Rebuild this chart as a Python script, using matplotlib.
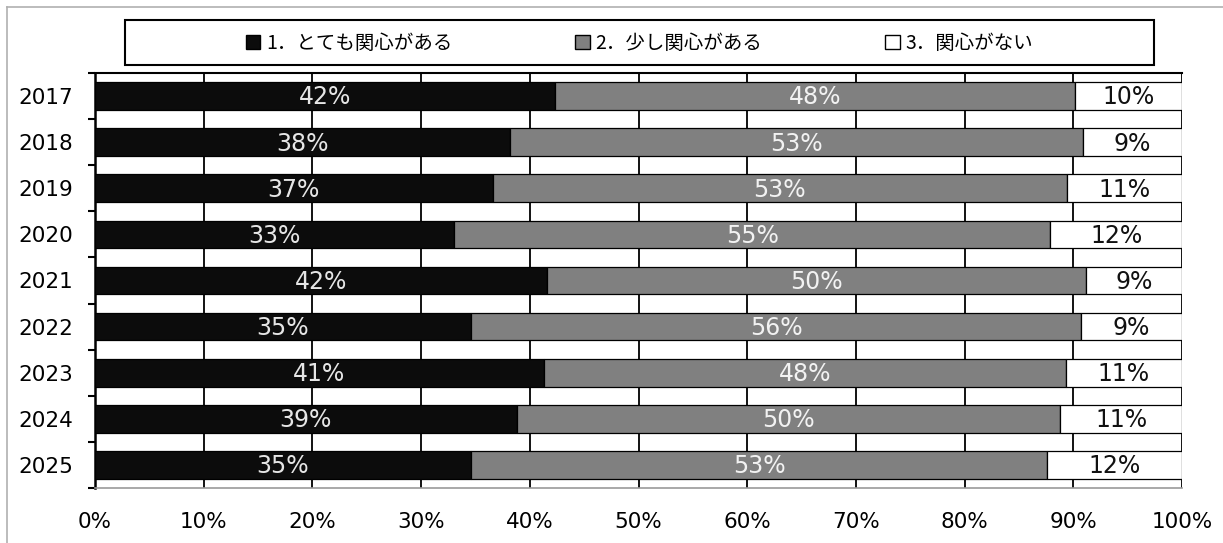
import matplotlib
matplotlib.use("Agg")
import matplotlib.pyplot as plt
import numpy as np
from matplotlib.lines import Line2D
from matplotlib.patches import Rectangle

plt.rcParams['font.family'] = ['DejaVu Sans', 'Noto Sans CJK JP']

years = ["2017", "2018", "2019", "2020", "2021", "2022", "2023", "2024", "2025"]
very = [42.3, 38.2, 36.6, 33.0, 41.6, 34.6, 41.3, 38.8, 34.6]
some = [47.9, 52.7, 52.8, 54.9, 49.6, 56.1, 48.0, 50.0, 53.0]
none = [9.8, 9.1, 10.6, 12.1, 8.8, 9.3, 10.7, 11.2, 12.4]
names = ["1．とても関心がある", "2．少し関心がある", "3．関心がない"]
colors = ["#0c0c0c", "#808080", "#ffffff"]
text_colors = ["#e6e6e6", "#f2f2f2", "#111111"]

W, H = 1223, 543
fig = plt.figure(figsize=(W / 100, H / 100), dpi=100)
ax = fig.add_axes([95 / W, 1 - 488 / H, (1182 - 95) / W, (488 - 73) / H])

y = np.arange(len(years))
left = np.zeros(len(years))
for vals, c, tc, name in zip([very, some, none], colors, text_colors, names):
    vals = np.array(vals)
    ax.barh(y, vals, left=left, height=0.6, color=c, edgecolor="black",
            linewidth=0.9, zorder=3, label=name)
    for yi, l, v in zip(y, left, vals):
        ax.text(l + v / 2, yi + 0.03, f"{v:.0f}%", ha="center", va="center",
                color=tc, fontsize=17, zorder=4)
    left += vals

ax.set_xlim(0, 100)
ax.set_ylim(len(years) - 0.5, -0.5)
ax.set_xticks(np.arange(0, 101, 10))
ax.set_xticklabels([f"{t}%" for t in range(0, 101, 10)], fontsize=15.5)
ax.tick_params(axis="x", length=0, pad=17)
ax.set_yticks(y)
ax.set_yticklabels(years, fontsize=15.5)
ax.tick_params(axis="y", which="major", length=0, pad=16)
ax.set_yticks(np.arange(-0.5, len(years), 1), minor=True)
ax.tick_params(axis="y", which="minor", length=5, width=1.5, color="black")
ax.grid(axis="x", color="black", linewidth=1.3, zorder=1)

ax.spines["right"].set_visible(False)
ax.spines["top"].set_linewidth(1.5)
ax.spines["left"].set_linewidth(1.8)
ax.spines["bottom"].set_color("#999999")
ax.spines["bottom"].set_linewidth(1.2)

# legend box spanning most of the width, entries centred inside it
fig.add_artist(Rectangle((125 / W, 1 - 65 / H), (1154 - 125) / W, 45 / H,
                         transform=fig.transFigure, facecolor="white",
                         edgecolor="black", linewidth=1.5))
leg_handles = [Rectangle((0, 0), 1, 1, facecolor=c, edgecolor="black", linewidth=1.0)
               for c in colors]
leg = fig.legend(leg_handles, names, loc="center",
                 bbox_to_anchor=((125 + 1154) / 2 / W, 1 - 43 / H),
                 ncol=3, frameon=False, handlelength=0.75, handleheight=0.75,
                 handletextpad=0.3, columnspacing=6.3,
                 prop={'family': ['Noto Sans CJK JP'], 'size': 14})

# outer frame of the pasted chart
fig.add_artist(Line2D([7 / W, 7 / W], [0, 1 - 7 / H], color="#b0b0b0", linewidth=1.2))
fig.add_artist(Line2D([7 / W, 1], [1 - 7 / H, 1 - 7 / H], color="#b0b0b0", linewidth=1.2))

fig.savefig("out.png", dpi=100)
